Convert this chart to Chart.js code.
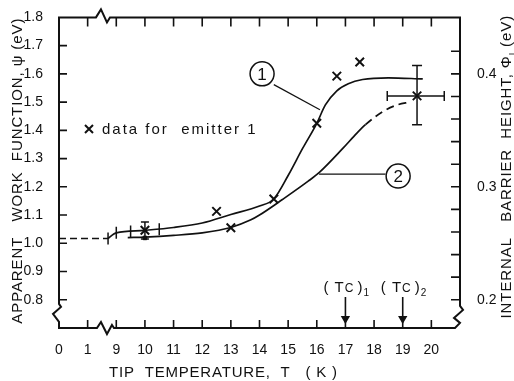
<!DOCTYPE html>
<html>
<head>
<meta charset="utf-8">
<script src="https://cdn.jsdelivr.net/npm/chart.js@4.4.0/dist/chart.umd.min.js"></script>
<style>
  body { margin: 0; background: #fff; }
  #wrap { width: 514px; height: 381px; }
</style>
</head>
<body>
<div id="wrap"><canvas id="chart" width="514" height="381"></canvas></div>
<script>
// temperature in K, apparent work function psi in eV, barrier height phi = psi / 4
const xTicksK = [0, 1, 9, 10, 11, 12, 13, 14, 15, 16, 17, 18, 19, 20];
const yTicks = [0.8, 0.9, 1.0, 1.1, 1.2, 1.3, 1.4, 1.5, 1.6, 1.7, 1.8];
const y2Ticks = [0.20, 0.22, 0.24, 0.26, 0.28, 0.30, 0.32, 0.34, 0.36, 0.38, 0.40, 0.42];
const y2Labels = [0.2, 0.3, 0.4];

const leadT = [0, 6.7];
const leadPsi = [1.017, 1.017];

const curve1T = [6.7, 8.3, 9, 10, 11, 12, 13, 14, 14.5, 15, 15.5, 16, 16.3, 16.7, 17.1, 17.6, 18.5, 19.7];
const curve1Psi = [1.017, 1.033, 1.037, 1.046, 1.056, 1.072, 1.102, 1.132, 1.157, 1.24, 1.335, 1.425, 1.49, 1.54, 1.565, 1.58, 1.586, 1.582];

const curve2T = [9.4, 10, 11, 12, 13, 13.7, 14, 14.8, 15.7, 16.1, 16.9, 17.4, 17.7, 18.3, 18.8, 19.25];
const curve2Psi = [1.020, 1.022, 1.028, 1.037, 1.056, 1.083, 1.1, 1.155, 1.22, 1.252, 1.335, 1.39, 1.42, 1.466, 1.49, 1.50];
const curve2DashFrom = 17.7;

const dataT = [10, 12.5, 13, 14.5, 16, 16.7, 17.5, 19.5];
const dataPsi = [1.046, 1.113, 1.055, 1.157, 1.425, 1.592, 1.642, 1.522];

const barTicksT = [6.7, 9.0, 9.5, 10.5];
const barTicksPsi = [1.017, 1.037, 1.042, 1.050];

const err10T = [10, 10];
const err10Psi = [1.015, 1.075];
const err195T = [19.5, 19.5];
const err195Psi = [1.42, 1.63];
const errH195T = [18.46, 20.45];
const errH195Psi = [1.522, 1.522];

const squareT = [10];
const squarePsi = [1.019];

const circleT = [14.09, 18.84];
const circlePsi = [1.60, 1.238];
const circleNames = ['1', '2'];
const leader1T = [14.5, 16.11];
const leader1Psi = [1.562, 1.473];
const leader2T = [16.08, 18.4];
const leader2Psi = [1.245, 1.245];

const tcT = [17, 19];
const tcNames = ['1', '2'];
const tcArrowPsi = [0.81, 0.733];

// the axis is broken between 1 K and 9 K
function toAxis(t) {
  if (t <= 1) return t;
  if (t < 9) return 1 + (t - 1) / 8;
  return t - 7;
}
const pts = (xs, ys) => xs.map((t, i) => ({ x: toAxis(t), y: ys[i] }));

const INK = '#111';
const FONT = '"Liberation Sans", Arial, sans-serif';

function line(data, extra) {
  return Object.assign({
    data: data, showLine: true, borderColor: INK, borderWidth: 1.7,
    pointRadius: 0, pointHoverRadius: 0, fill: false
  }, extra || {});
}

const datasets = [
  Object.assign(line(pts(circleT, circlePsi)), {
    showLine: false, pointRadius: 12, pointStyle: 'circle',
    pointBackgroundColor: '#fff', pointBorderColor: INK, pointBorderWidth: 1.5
  }),
  line(pts(leadT, leadPsi), { borderDash: [7, 4] }),
  line(pts(curve1T, curve1Psi), { cubicInterpolationMode: 'monotone', tension: 0.4 }),
  line(pts(curve2T, curve2Psi), {
    cubicInterpolationMode: 'monotone', tension: 0.4,
    segment: { borderDash: c => c.p0.parsed.x >= toAxis(curve2DashFrom) - 1e-6 ? [8, 5] : undefined }
  }),
  {
    data: pts(dataT, dataPsi), pointStyle: 'crossRot', pointRadius: 6,
    pointBorderColor: INK, pointBorderWidth: 2
  },
  {
    data: pts(barTicksT, barTicksPsi), pointStyle: 'line', rotation: 90, pointRadius: 6,
    pointBorderColor: INK, pointBorderWidth: 1.5
  },
  line(pts(err10T, err10Psi), { pointStyle: 'line', pointRadius: 4, pointBorderColor: INK, pointBorderWidth: 1.5, borderWidth: 1.5 }),
  line(pts(err195T, err195Psi), { pointStyle: 'line', pointRadius: 5, pointBorderColor: INK, pointBorderWidth: 1.5, borderWidth: 1.5 }),
  line(pts(errH195T, errH195Psi), { pointStyle: 'line', rotation: 90, pointRadius: 5, pointBorderColor: INK, pointBorderWidth: 1.5, borderWidth: 1.5 }),
  {
    data: pts(squareT, squarePsi), pointStyle: 'rect', pointRadius: 2.5,
    pointBackgroundColor: INK, pointBorderColor: INK
  },
  line(pts(leader1T, leader1Psi), { borderWidth: 1.2 }),
  line(pts(leader2T, leader2Psi), { borderWidth: 1.2 })
];
tcT.forEach(t => {
  datasets.push(line(pts([t, t], tcArrowPsi), {
    borderWidth: 1.6, pointRadius: [0, 3.8], pointStyle: 'triangle', rotation: 180,
    pointBackgroundColor: INK, pointBorderColor: INK
  }));
});

function spacedText(ctx, text, x, y, spacing) {
  ctx.letterSpacing = spacing + 'px';
  ctx.fillText(text, x, y);
  ctx.letterSpacing = '0px';
}

const drawings = {
  id: 'drawings',
  afterDraw(chart) {
    const { ctx, chartArea: a, scales } = chart;
    const x = scales.x, y = scales.y, y2 = scales.y2;
    const px = t => x.getPixelForValue(toAxis(t));
    const py = v => y.getPixelForValue(v);
    ctx.save();
    ctx.strokeStyle = INK;
    ctx.fillStyle = INK;

    // frame with axis breaks
    const xb = (x.getPixelForValue(1) + x.getPixelForValue(2)) / 2;
    const yb = py(0.75);
    const L = a.left, R = a.right, T = a.top, B = a.bottom;
    ctx.lineWidth = 2;
    ctx.beginPath();
    ctx.moveTo(L, T);
    ctx.lineTo(xb - 6, T); ctx.lineTo(xb - 1, T - 8); ctx.lineTo(xb + 5, T + 5); ctx.lineTo(xb + 8, T);
    ctx.lineTo(R, T);
    ctx.lineTo(R, yb - 8); ctx.lineTo(R + 3, yb - 4); ctx.lineTo(R - 6, yb + 4); ctx.lineTo(R, yb + 9); ctx.lineTo(R - 5, B);
    ctx.lineTo(xb + 12, B); ctx.lineTo(xb + 10, B - 3); ctx.lineTo(xb + 5, B + 6); ctx.lineTo(xb - 1, B - 6); ctx.lineTo(xb - 5, B);
    ctx.lineTo(L, B);
    ctx.lineTo(L, yb + 8); ctx.lineTo(L - 6, yb); ctx.lineTo(L + 2, yb - 7); ctx.lineTo(L, yb - 10);
    ctx.closePath();
    ctx.stroke();

    // inward tick marks
    ctx.lineWidth = 1.6;
    ctx.beginPath();
    x.ticks.forEach(tk => {
      const p = x.getPixelForValue(tk.value);
      if (p <= L + 1) return;
      ctx.moveTo(p, B); ctx.lineTo(p, B - 8);
      ctx.moveTo(p, T); ctx.lineTo(p, T + 9);
    });
    y.ticks.forEach(tk => {
      const p = y.getPixelForValue(tk.value);
      if (p <= T + 1) return;
      ctx.moveTo(L, p); ctx.lineTo(L + 8, p);
    });
    y2.ticks.forEach(tk => {
      const p = y2.getPixelForValue(tk.value);
      ctx.moveTo(R, p); ctx.lineTo(R - 9, p);
    });
    ctx.stroke();

    // circled curve numbers
    ctx.font = '17px ' + FONT;
    ctx.textAlign = 'center';
    ctx.textBaseline = 'middle';
    circleT.forEach((t, i) => ctx.fillText(circleNames[i], px(t), py(circlePsi[i]) + 1));

    // legend note
    ctx.lineWidth = 2;
    ctx.beginPath();
    ctx.moveTo(85, 125); ctx.lineTo(93, 133);
    ctx.moveTo(93, 125); ctx.lineTo(85, 133);
    ctx.stroke();
    ctx.textAlign = 'left';
    ctx.textBaseline = 'alphabetic';
    ctx.font = '15px ' + FONT;
    spacedText(ctx, 'data for  emitter 1', 102, 134, 2);

    // critical temperatures
    tcT.forEach((t, i) => {
      let cx = px(t) - 22;
      const base = py(tcArrowPsi[0]) - 5;
      ctx.font = '15px ' + FONT;
      spacedText(ctx, '( T', cx, base, 1);
      cx += ctx.measureText('( T').width + 3;
      ctx.font = '12px ' + FONT;
      ctx.fillText('C', cx, base);
      cx += ctx.measureText('C').width;
      ctx.font = '15px ' + FONT;
      ctx.fillText(' )', cx, base);
      cx += ctx.measureText(' )').width + 1;
      ctx.font = '10px ' + FONT;
      ctx.fillText(tcNames[i], cx, base + 4);
    });

    // axis titles
    ctx.font = '15px ' + FONT;
    ctx.textAlign = 'left';
    ctx.textBaseline = 'alphabetic';
    spacedText(ctx, 'TIP  TEMPERATURE,  T   ( K )', 109, 377, 0.8);

    ctx.save();
    ctx.translate(22, (T + B) / 2 - 2);
    ctx.rotate(-Math.PI / 2);
    ctx.textAlign = 'center';
    spacedText(ctx, 'APPARENT   WORK  FUNCTION, \u03c8 (eV)', 0, 0, 0.9);
    ctx.restore();

    ctx.save();
    ctx.translate(511, (T + B) / 2 - 6);
    ctx.rotate(-Math.PI / 2);
    ctx.textAlign = 'left';
    ctx.letterSpacing = '0.9px';
    const parts = [['INTERNAL   BARRIER  HEIGHT, \u03a6', 15, 0], ['I', 9, 4], [' (eV)', 15, 0]];
    let w = 0;
    parts.forEach(p => { ctx.font = p[1] + 'px ' + FONT; w += ctx.measureText(p[0]).width; });
    let cx = -w / 2;
    parts.forEach(p => {
      ctx.font = p[1] + 'px ' + FONT;
      ctx.fillText(p[0], cx, p[2]);
      cx += ctx.measureText(p[0]).width;
    });
    ctx.restore();

    ctx.restore();
  }
};

const tickFont = { family: FONT, size: 14 };

new Chart(document.getElementById('chart'), {
  type: 'scatter',
  data: { datasets: datasets },
  options: {
    responsive: false,
    animation: false,
    events: [],
    layout: { padding: { top: 15, left: 0, right: 0, bottom: 0 } },
    plugins: { legend: { display: false }, tooltip: { enabled: false } },
    scales: {
      x: {
        type: 'linear', min: 0, max: toAxis(21),
        afterFit: s => { s.height = 53; },
        afterBuildTicks: s => { s.ticks = xTicksK.map(t => ({ value: toAxis(t) })); },
        grid: { display: false }, border: { display: false },
        ticks: {
          autoSkip: false, maxRotation: 0, padding: 6, color: INK, font: tickFont,
          callback: v => {
            const i = xTicksK.findIndex(t => Math.abs(toAxis(t) - v) < 1e-6);
            return i >= 0 ? String(xTicksK[i]) : '';
          }
        }
      },
      y: {
        type: 'linear', position: 'left', min: 0.7, max: 1.8,
        afterFit: s => { s.width = 59; },
        afterBuildTicks: s => { s.ticks = yTicks.map(v => ({ value: v })); },
        grid: { display: false }, border: { display: false },
        ticks: { padding: 8, color: INK, font: tickFont, callback: v => v.toFixed(1) }
      },
      y2: {
        type: 'linear', position: 'right', min: 0.7 / 4, max: 1.8 / 4,
        afterFit: s => { s.width = 54; },
        afterBuildTicks: s => { s.ticks = y2Ticks.map(v => ({ value: v })); },
        grid: { display: false }, border: { display: false },
        ticks: {
          padding: 9, color: INK, font: tickFont,
          callback: v => y2Labels.some(l => Math.abs(l - v) < 1e-6) ? v.toFixed(1) : ''
        }
      }
    }
  },
  plugins: [drawings]
});
</script>
</body>
</html>
